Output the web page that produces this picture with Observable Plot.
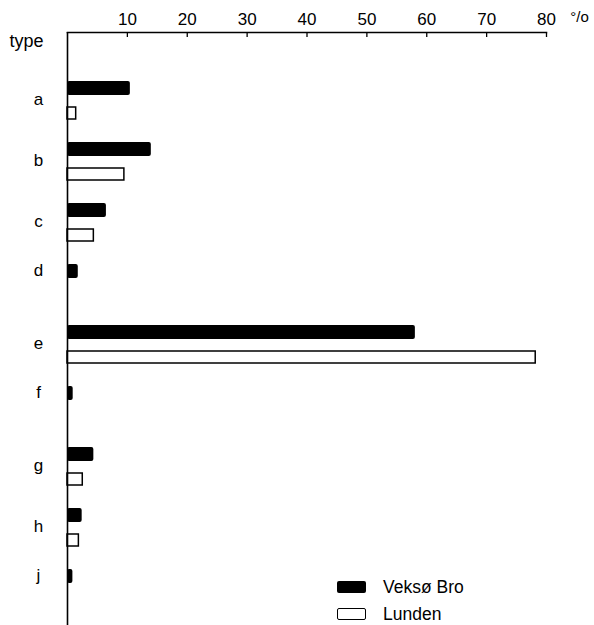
<!DOCTYPE html>
<html><head><meta charset="utf-8">
<script src="https://cdn.jsdelivr.net/npm/d3@7"></script>
<script src="https://cdn.jsdelivr.net/npm/@observablehq/plot@0.6"></script>
<style>
body{margin:0;background:#fff;font-family:"Liberation Sans",Arial,sans-serif;color:#000}
#wrap{position:relative;width:594px;height:625px;overflow:hidden}
.leg{position:absolute;left:337px;height:14px;display:flex;align-items:center;font-size:17.5px;line-height:14px}
.sw{width:29px;height:12px;box-sizing:border-box;border-radius:2px;margin-right:17px}
</style></head><body><div id="wrap"></div>
<script>
const types = ["a","b","c","d","e","f","g","h","j"];
const veksoBro = [10.5, 14.0, 6.5, 1.8, 58.1, 0.95, 4.4, 2.45, 0.9];
const lunden = [1.45, 9.5, 4.4, null, 78.2, null, 2.55, 1.9, null];
const xTicks = [10, 20, 30, 40, 50, 60, 70, 80];
const seriesNames = ["Veksø Bro", "Lunden"];
const unitLabel = "°/o";
const axisTitle = "type";

const rowsV = types.map((t, i) => ({type: t, value: veksoBro[i]}));
const rowsL = types.map((t, i) => ({type: t, value: lunden[i]})).filter(d => d.value != null);
const pairTypes = types.filter((t, i) => lunden[i] != null);
const singleTypes = types.filter((t, i) => lunden[i] == null);

const chart = Plot.plot({
  width: 594, height: 625,
  marginLeft: 67, marginRight: 48, marginTop: 32, marginBottom: 0,
  style: {fontFamily: "Liberation Sans, Arial, sans-serif", fontSize: "17px", color: "#000", background: "#fff"},
  x: {domain: [0, 80], label: null},
  y: {domain: types, paddingInner: 0, paddingOuter: 0.341, align: 0.86, label: null, axis: null},
  marks: [
    Plot.barX(rowsV, {x: "value", y: "type", fill: "#000", insetTop: 11, insetBottom: 36, rx: 2}),
    Plot.barX(rowsL, {x: "value", y: "type", fill: "#fff", stroke: "#000", strokeWidth: 1.5, insetTop: 37, insetBottom: 12}),
    Plot.ruleX([0], {stroke: "#000", strokeWidth: 1.6}),
    Plot.frame({anchor: "top", stroke: "#000", strokeWidth: 1.6}),
    Plot.axisX(xTicks, {anchor: "top", tickSize: -4, tickPadding: 12, fontSize: 17, strokeWidth: 1.3}),
    Plot.text(pairTypes, {y: d => d, frameAnchor: "left", dx: -29, dy: -1, textAnchor: "middle", lineAnchor: "middle", fontSize: 17}),
    Plot.text(singleTypes, {y: d => d, frameAnchor: "left", dx: -29, dy: -13, textAnchor: "middle", lineAnchor: "middle", fontSize: 17}),
    Plot.text([axisTitle], {frameAnchor: "top-left", dx: -41, dy: 9, textAnchor: "middle", lineAnchor: "middle", fontSize: 18}),
    Plot.text([unitLabel], {frameAnchor: "top-right", dx: 33, dy: -15, textAnchor: "middle", lineAnchor: "middle", fontSize: 15})
  ]
});
const wrap = document.getElementById("wrap");
wrap.appendChild(chart);

const legendTops = [580, 607];
seriesNames.forEach((name, i) => {
  const row = document.createElement("div");
  row.className = "leg";
  row.style.top = legendTops[i] + "px";
  const sw = document.createElement("div");
  sw.className = "sw";
  if (i === 0) { sw.style.background = "#000"; }
  else { sw.style.background = "#fff"; sw.style.border = "1.5px solid #000"; }
  const lab = document.createElement("span");
  lab.textContent = name;
  row.appendChild(sw); row.appendChild(lab);
  wrap.appendChild(row);
});
</script></body></html>
